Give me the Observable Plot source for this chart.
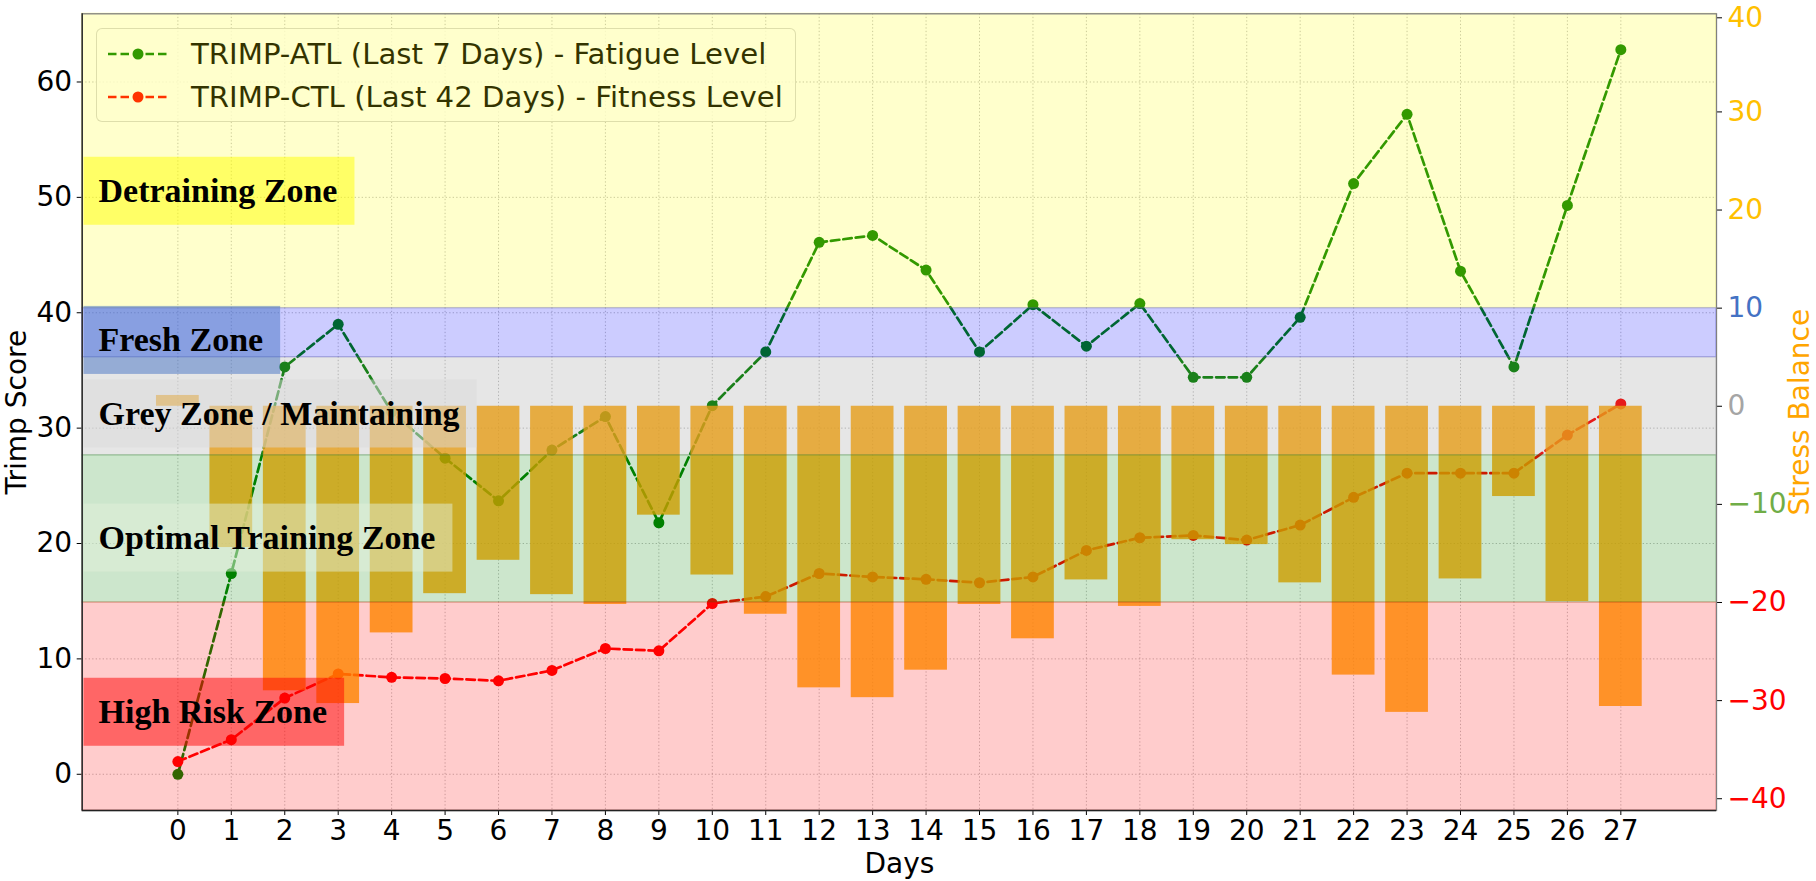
<!DOCTYPE html>
<html>
<head>
<meta charset="utf-8">
<script src="https://cdn.jsdelivr.net/npm/d3@7"></script>
<script src="https://cdn.jsdelivr.net/npm/@observablehq/plot@0.6"></script>
<style>
  html, body { margin: 0; padding: 0; background: #fff; }
  #chart { position: relative; width: 1816px; height: 881px; overflow: hidden; }
  #chart > svg { position: absolute; left: 0; top: 0; }
  #legend {
    position: absolute; left: 96px; top: 28px; width: 700px; height: 94px;
    box-sizing: border-box; background: rgba(255,255,255,0.8);
    border: 1.3px solid rgba(204,204,204,0.8); border-radius: 6px;
    font-family: "DejaVu Sans"; font-size: 29.2px; color: #000;
  }
  #legend .row { position: absolute; left: 0; height: 36px; line-height: 36px; white-space: nowrap; }
  #legend .row svg { position: absolute; left: 11px; top: 8px; }
  #legend .row span { position: absolute; left: 94px; top: 0; }
</style>
</head>
<body>
<div id="chart"></div>
<script>
// ---------------- data ----------------
const days = [0,1,2,3,4,5,6,7,8,9,10,11,12,13,14,15,16,17,18,19,20,21,22,23,24,25,26,27];
const atl = [0.0,17.4,35.3,39.0,31.4,27.4,23.7,28.1,31.0,21.8,31.95,36.6,46.1,46.7,43.7,36.6,40.7,37.1,40.8,34.4,34.4,39.6,51.2,57.2,43.6,35.3,49.3,62.8];
const ctl = [1.1,3.0,6.6,8.7,8.4,8.3,8.1,9.0,10.9,10.7,14.8,15.4,17.4,17.1,16.9,16.6,17.1,19.4,20.5,20.7,20.3,21.6,24.0,26.1,26.1,26.1,29.4,32.1];
const balance = [1.1,-14.4,-29.0,-30.3,-23.1,-19.1,-15.7,-19.2,-20.2,-11.1,-17.2,-21.2,-28.7,-29.7,-26.9,-20.2,-23.7,-17.7,-20.4,-13.6,-14.1,-18.0,-27.4,-31.2,-17.6,-9.2,-19.9,-30.6];
const leftTicks = [0,10,20,30,40,50,60];
const rightTicks = [-40,-30,-20,-10,0,10,20,30,40];
const zoneNames = ["Detraining Zone","Fresh Zone","Grey Zone / Maintaining","Optimal Training Zone","High Risk Zone"];
const zoneLow  = [10, 5, -5, -20, null];
const zoneHigh = [null, 10, 5, -5, -20];
const seriesNames = ["TRIMP-ATL (Last 7 Days) - Fatigue Level","TRIMP-CTL (Last 42 Days) - Fitness Level"];

// ---------------- styles / layout ----------------
const W = 1816, H = 881;
const mL = 81.7, mR = 100, mT = 13.3, mB = 71;
const xDomain = [-1.79, 28.79];
const yLeftDomain = [-3.14, 65.91];
const yRightDomain = [-41.2, 40];
const zoneColors = ["yellow", "blue", "grey", "green", "red"];
const boxColors = ["yellow", "#4472c4", "#d9d9d9", "#e2efda", "red"];
const labelY = [21.9, 6.7, -0.8, -13.45, -31.2]; // label anchors on the stress-balance axis
const seriesColors = ["green", "red"];
const tickColor = v => v >= 20 ? "#ffc000" : v === 10 ? "#4472c4" : v === 0 ? "#a5a5a5" : v === -10 ? "#70ad47" : "#ff0000";
const fmt = d => d < 0 ? "\u2212" + Math.abs(d) : String(d);

const rows = days.map((d, i) => ({day: d, atl: atl[i], ctl: ctl[i], bal: balance[i]}));
const zones = zoneNames.map((n, i) => ({
  name: n,
  lo: zoneLow[i] === null ? yRightDomain[0] : zoneLow[i],
  hi: zoneHigh[i] === null ? yRightDomain[1] : zoneHigh[i],
  color: zoneColors[i]
}));
const labels = zoneNames.map((n, i) => ({name: n, y: labelY[i]}));
const topTick = rightTicks.filter(t => t === yRightDomain[1]);
const otherTicks = rightTicks.filter(t => t !== yRightDomain[1]);

const gridStyle = {stroke: "#8a8a8a", strokeOpacity: 0.55, strokeWidth: 1, strokeDasharray: "1.3,2.2"};
const dash = "8.5,4";
const lw = 2.7;
const rDot = 5.5;

// ---------------- left axis plot (ax1) ----------------
const p1 = Plot.plot({
  width: W, height: H,
  marginLeft: mL, marginRight: mR, marginTop: mT, marginBottom: mB,
  style: {fontFamily: "DejaVu Sans", fontSize: "28px", background: "white", color: "black", overflow: "visible"},
  x: {domain: xDomain, axis: null},
  y: {domain: yLeftDomain, axis: null},
  marks: [
    Plot.gridX(days, gridStyle),
    Plot.gridY(leftTicks, gridStyle),
    Plot.line(rows, {x: "day", y: "atl", stroke: seriesColors[0], strokeWidth: lw, strokeDasharray: dash}),
    Plot.dot(rows, {x: "day", y: "atl", r: rDot, fill: seriesColors[0]}),
    Plot.line(rows, {x: "day", y: "ctl", stroke: seriesColors[1], strokeWidth: lw, strokeDasharray: dash}),
    Plot.dot(rows, {x: "day", y: "ctl", r: rDot, fill: seriesColors[1]}),
    Plot.axisX({ticks: days, tickSize: 5, tickPadding: 5, tickFormat: d => String(d), label: null, fontSize: 28}),
    Plot.axisY({ticks: leftTicks, tickSize: 5, tickPadding: 5, tickFormat: fmt, label: null, fontSize: 28}),
    Plot.text(["Days"], {frameAnchor: "bottom", dy: 54, textAnchor: "middle", lineAnchor: "middle", fontSize: 28, fill: "black"}),
    Plot.text(["Trimp Score"], {frameAnchor: "left", dx: -65.3, rotate: -90, textAnchor: "middle", lineAnchor: "middle", fontSize: 28, fill: "black"})
  ]
});

// ---------------- right axis plot (ax2) ----------------
const p2 = Plot.plot({
  width: W, height: H,
  marginLeft: mL, marginRight: mR, marginTop: mT, marginBottom: mB,
  style: {fontFamily: "DejaVu Sans", fontSize: "28px", background: "transparent", color: "black", overflow: "visible"},
  x: {domain: xDomain, axis: null},
  y: {domain: yRightDomain, axis: null},
  color: {type: "identity"},
  marks: [
    Plot.rect(rows, {x1: d => d.day - 0.4, x2: d => d.day + 0.4, y1: 0, y2: "bal", fill: "#ffa500", fillOpacity: 0.8}),
    Plot.rect(zones, {x1: xDomain[0], x2: xDomain[1], y1: "lo", y2: "hi", fill: "color", fillOpacity: 0.2, stroke: "color", strokeOpacity: 0.2, strokeWidth: 1.4}),
    Plot.text(labels, {frameAnchor: "left", y: "y", text: "name", dx: 16.3, textAnchor: "start", lineAnchor: "middle",
      fontFamily: "Liberation Serif", fontWeight: "bold", fontSize: 34, fill: "black"}),
    Plot.axisY({anchor: "right", ticks: otherTicks, tickSize: 5, tickPadding: 6, tickFormat: fmt, fill: d => tickColor(d), label: null, fontSize: 28}),
    Plot.axisY({anchor: "right", ticks: topTick, tickSize: 5, tickPadding: 6, tickFormat: fmt, fill: d => tickColor(d), label: null, fontSize: 28, dy: 4}),
    Plot.text(["Stress Balance"], {frameAnchor: "right", dx: 84, rotate: -90, textAnchor: "middle", lineAnchor: "middle", fontSize: 28, fill: "#ffa500"}),
    Plot.frame({stroke: "#808080", strokeWidth: 1.3}),
    Plot.ruleX([xDomain[0]], {stroke: "#222", strokeWidth: 1.3}),
    Plot.ruleY([yRightDomain[0]], {stroke: "#222", strokeWidth: 1.3})
  ]
});

// ---------------- assemble ----------------
const chart = document.getElementById("chart");
chart.appendChild(p1);

const legend = document.createElement("div");
legend.id = "legend";
seriesNames.forEach((name, i) => {
  const row = document.createElement("div");
  row.className = "row";
  row.style.top = (i === 0 ? 6.5 : 50) + "px";
  row.innerHTML = `<svg width="62" height="20"><line x1="0" y1="10" x2="60" y2="10" stroke="${seriesColors[i]}" stroke-width="${lw}" stroke-dasharray="${dash}"/><circle cx="30" cy="10" r="${rDot}" fill="${seriesColors[i]}"/></svg><span>${name}</span>`;
  legend.appendChild(row);
});
chart.appendChild(legend);

chart.appendChild(p2);

// boxes behind the zone labels
const ns = "http://www.w3.org/2000/svg";
const sr = p2.getBoundingClientRect();
const boxGroup = document.createElementNS(ns, "g");
let textGroup = null;
p2.querySelectorAll("text").forEach(t => {
  const idx = zoneNames.indexOf(t.textContent);
  if (idx < 0) return;
  textGroup = t.parentNode;
  const b = t.getBoundingClientRect();
  const r = document.createElementNS(ns, "rect");
  r.setAttribute("x", b.left - sr.left - 15);
  r.setAttribute("y", b.top - sr.top - 15.5);
  r.setAttribute("width", b.width + 32);
  r.setAttribute("height", b.height + 31);
  r.setAttribute("fill", boxColors[idx]);
  r.setAttribute("fill-opacity", 0.5);
  boxGroup.appendChild(r);
});
if (textGroup) textGroup.parentNode.insertBefore(boxGroup, textGroup);
</script>
</body>
</html>
